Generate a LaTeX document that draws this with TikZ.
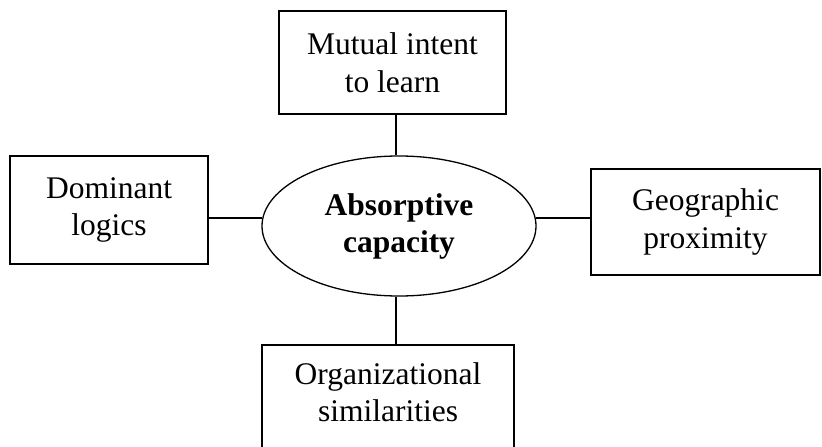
\documentclass[tikz,border=0pt]{standalone}
\usepackage{fontspec}
\setmainfont{Liberation Serif}
\usetikzlibrary{shapes.geometric,calc}
\begin{document}
\begin{tikzpicture}[x=1pt,y=-1pt,
  every node/.style={font=\fontsize{31.5}{37.5}\selectfont, align=center},
  boxnode/.style={draw, line width=1.3pt, rectangle, inner sep=0pt},
  ellnode/.style={draw, line width=1.3pt, ellipse, inner sep=0pt,
    minimum width=274pt, minimum height=140pt,
    font=\fontsize{31.5}{37}\selectfont\bfseries},
  txtnode/.style={inner sep=0pt},
  link/.style={line width=1.3pt}]
\useasboundingbox (0,0) rectangle (822,447);
\clip (0,0) rectangle (822,447);
% central ellipse
\node[ellnode] (ell) at (399,226) {Absorptive\\capacity};
% boxes
\node[boxnode, minimum width=227pt, minimum height=103pt] (top) at (392.5,62.5) {Mutual intent\\to learn};
\node[boxnode, minimum width=198pt, minimum height=108pt] (left) at (109,210) {Dominant\\logics};
\node[boxnode, minimum width=229pt, minimum height=106pt] (right) at (705.5,222) {Geographic\\proximity};
\node[boxnode, minimum width=252pt, minimum height=120pt] (bot) at (388,405) {};
\node[txtnode] (bottxt) at (388,392) {Organizational\\similarities};
% connectors
\coordinate (ellL) at ($(ell.west)+(0.3,-8)$);
\coordinate (ellR) at ($(ell.east)+(-0.3,-8)$);
\draw[link] (left.east |- ellL) -- (ellL);
\draw[link] (ellR) -- (right.west |- ellR);
\draw[link] (top.south -| 396,0) -- ($(ell.north)+(-3,0.1)$);
\draw[link] ($(ell.south)+(-3,-0.1)$) -- (bot.north -| 396,0);
\end{tikzpicture}
\end{document}
